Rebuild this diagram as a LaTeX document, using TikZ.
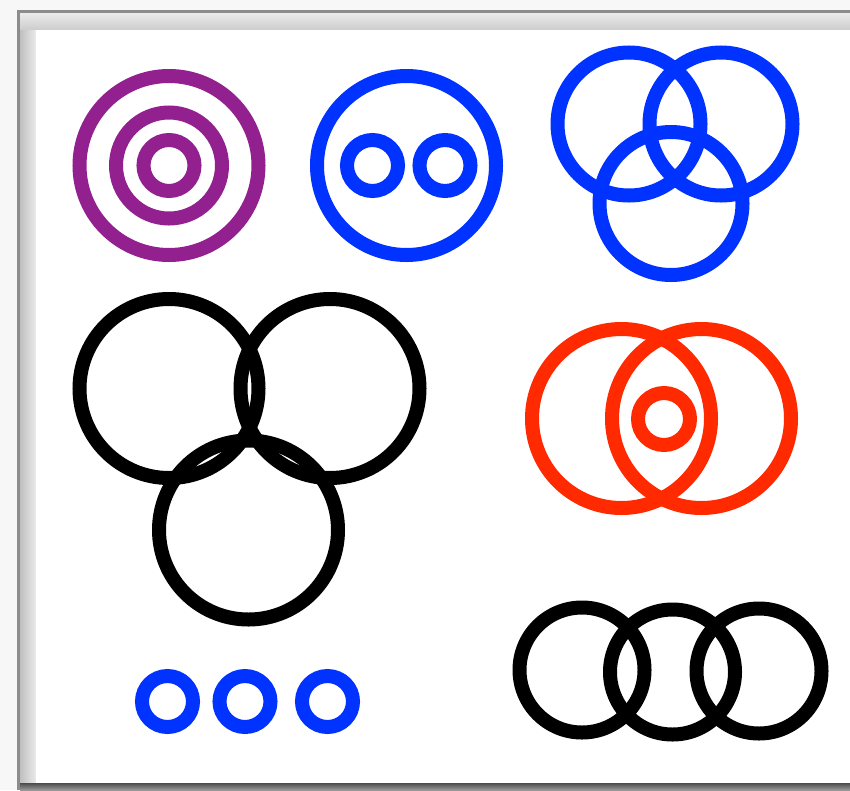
\documentclass[tikz,border=0pt]{standalone}
\usetikzlibrary{positioning}
\definecolor{ringpurple}{RGB}{146,32,143}
\definecolor{ringblue}{RGB}{0,51,255}
\definecolor{ringred}{RGB}{255,42,0}
\begin{document}
\begin{tikzpicture}[x=1pt,y=-1pt,
  ring/.style={draw, circle, inner sep=0pt, line width=14pt},
  big/.style={ring, minimum size=179pt},
  mid/.style={ring, minimum size=143pt},
  row/.style={ring, minimum size=125pt},
  small/.style={ring, minimum size=51pt}]
\useasboundingbox (0,0) rectangle (850,790);
\fill[black!3] (0,0) rectangle (850,790);
\fill[black!45] (17,10) rectangle (850,790);
\fill[black!15] (20,13) rectangle (850,790);
\shade[top color=black!8, bottom color=black!20] (20,13) rectangle (850,30);
\shade[left color=black!25, right color=black!8] (20,30) rectangle (36,783);
\shade[top color=black!70, bottom color=black!40] (20,783) rectangle (850,790);
\fill[white] (36,30) rectangle (850,783);
\node[big, draw=ringpurple] (p1) at (169,165.5) {};
\node[ring, draw=ringpurple, minimum size=106pt] (p2) at (169,165.5) {};
\node[small, draw=ringpurple] (p3) at (169,165.5) {};
\node[big, draw=ringblue] (b1) at (406.5,165.5) {};
\node[small, draw=ringblue] (b2) at (372.5,165.5) {};
\node[small, draw=ringblue] (b3) at (445,165.5) {};
\node[mid, draw=ringblue] (t1) at (629,124) {};
\node[mid, draw=ringblue] (t2) at (721,124) {};
\node[mid, draw=ringblue] (t3) at (671,203.5) {};
\node[big] (k1) at (169,388.5) {};
\node[big] (k2) at (330,388.5) {};
\node[big] (k3) at (248.5,530) {};
\node[big, draw=ringred] (r1) at (621.5,418.5) {};
\node[big, draw=ringred] (r2) at (701.5,418.5) {};
\node[ring, draw=ringred, minimum size=52pt] (r3) at (664,419) {};
\node[row] (c1) at (582,670) {};
\node[row] (c2) at (672.5,672) {};
\node[row] (c3) at (759,671) {};
\node[small, draw=ringblue] (s1) at (167.5,701.5) {};
\node[small, draw=ringblue] (s2) at (245,701.5) {};
\node[small, draw=ringblue] (s3) at (327.5,701.5) {};
\end{tikzpicture}
\end{document}
